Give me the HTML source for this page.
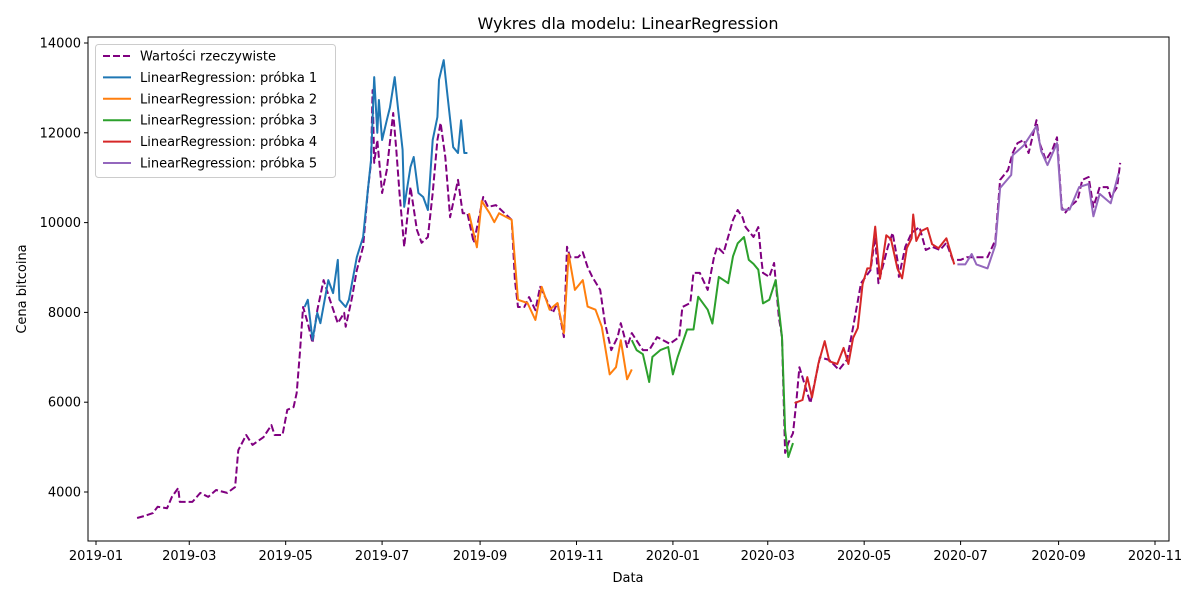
<!DOCTYPE html>
<html><head><meta charset="utf-8"><style>
body{margin:0;background:#fff;width:1200px;height:600px;overflow:hidden}
svg{font-family:"DejaVu Sans","Liberation Sans",sans-serif}
</style></head><body>
<svg id="chart" width="1200" height="600">
<rect width="1200" height="600" fill="#fff"/>
<text x="628" y="29" font-size="16" text-anchor="middle">Wykres dla modelu: LinearRegression</text>
<text x="628" y="582" font-size="13" text-anchor="middle">Data</text>
<text transform="translate(26,289) rotate(-90)" font-size="13" text-anchor="middle">Cena bitcoina</text>
<g id="ticks"></g>
<g id="series"></g>
<rect x="88" y="37" width="1081" height="504" fill="none" stroke="#000" stroke-width="1"/>
<g id="legend"></g>
</svg>
<script>
// day offsets from 2019-01-01
const actualDays=[26,31,36,39,45,48,52,53,61,66,71,76,83,88,90,95,99,106,111,113,118,121,125,127,129,131,134,137,140,144,148,153,157,158,162,165,169,172,174,175,176,178,181,184,188,190,192,195,199,203,206,210,213,216,218,221,224,229,232,235,239,245,248,253,263,265,267,271,274,278,281,285,289,292,296,298,300,305,308,311,314,319,322,326,330,332,336,339,346,350,355,363,369,371,376,378,382,387,391,393,397,403,406,409,411,416,419,421,422,426,429,432,434,436,438,441,443,445,452,458,464,470,475,479,484,490,493,495,501,504,507,508,512,516,521,525,529,534,538,542,547,551,555,559,564,569,572,577,580,583,587,590,595,597,601,605,608,611,613,616,621,624,628,631,635,640,642,646,648];
const actualVals=[3420,3470,3530,3670,3640,3890,4090,3780,3780,3980,3890,4045,3980,4110,4930,5270,5050,5220,5490,5270,5270,5830,5890,6210,7100,8120,7760,7320,8050,8720,8280,7760,7990,7680,8340,8940,9460,10730,11330,12950,11330,11840,10660,11170,12440,11620,10660,9460,10790,9840,9550,9680,10660,11840,12220,11460,10120,10950,10210,10210,9550,10570,10350,10390,10060,8720,8120,8120,8340,8050,8570,8280,7990,8210,7450,9460,9230,9230,9340,9010,8790,8500,7760,7160,7450,7760,7230,7540,7160,7160,7450,7300,7450,8120,8210,8880,8880,8500,9230,9460,9320,10060,10280,10120,9900,9680,9900,9170,8880,8790,9100,7900,7450,4870,5090,5310,5980,6780,5980,7000,6940,6720,6940,7670,8650,8940,9680,8650,9460,9770,9170,8790,9460,9770,9900,9390,9460,9390,9550,9170,9170,9230,9230,9230,9230,9610,10950,11170,11550,11770,11840,11550,12280,11770,11390,11620,11900,10350,10210,10350,10500,10950,11015,10350,10790,10790,10570,10790,11330];
const s1Days=[132,134,137,140,142,147,150,153,154,158,160,165,169,172,174,176,178,179,181,184,186,189,191,194,195,199,201,204,207,210,213,216,217,220,222,226,229,231,233,235];
const s1Vals=[8120,8280,7390,7990,7760,8720,8430,9170,8280,8120,8280,9230,9680,10730,11390,13240,12000,12730,11840,12280,12570,13240,12570,11620,10350,11240,11460,10660,10570,10280,11840,12350,13180,13620,12950,11680,11550,12280,11550,11550];
const s2Days=[236,241,244,249,252,255,263,267,273,278,282,287,292,296,299,303,308,311,316,320,325,329,332,336,339];
const s2Vals=[10210,9450,10480,10210,10010,10210,10060,8280,8210,7830,8570,8060,8210,7540,9300,8500,8720,8130,8060,7680,6620,6780,7380,6510,6730];
const s3Days=[339,342,346,350,352,357,362,365,368,374,378,381,387,390,394,400,403,406,410,413,416,419,422,426,430,434,436,438,441];
const s3Vals=[7380,7160,7070,6450,7010,7160,7230,6620,7010,7620,7620,8350,8060,7750,8790,8650,9250,9540,9680,9170,9080,8950,8200,8280,8720,7450,5380,4780,5090];
const s4Days=[442,447,450,453,457,461,464,469,473,476,479,482,485,488,490,493,496,500,503,507,510,513,516,517,519,522,526,529,533,538,543];
const s4Vals=[5980,6050,6560,6110,6850,7360,6910,6850,7210,6850,7430,7650,8630,8980,8980,9910,8750,9720,9630,8980,8760,9430,9650,10180,9590,9810,9880,9520,9430,9650,9070];
const s5Days=[545,550,554,557,564,569,572,579,580,587,595,598,602,608,611,616,622,628,631,635,642,647];
const s5Vals=[9070,9070,9300,9070,8980,9500,10770,11060,11500,11720,12150,11590,11280,11770,10290,10290,10790,10860,10140,10640,10430,11100];
const yTicks=[4000,6000,8000,10000,12000,14000];
const xTickLabels=["2019-01","2019-03","2019-05","2019-07","2019-09","2019-11","2020-01","2020-03","2020-05","2020-07","2020-09","2020-11"];
const xTickDays=[0,59,120,181,243,304,365,425,486,547,609,670];
const legendLabels=["Wartości rzeczywiste","LinearRegression: próbka 1","LinearRegression: próbka 2","LinearRegression: próbka 3","LinearRegression: próbka 4","LinearRegression: próbka 5"];

const NS="http://www.w3.org/2000/svg";
const xs=d=>96+d*1.5806;
const ys=v=>492-(v-4000)*0.0449;
function mk(tag,attrs,parent){const e=document.createElementNS(NS,tag);for(const k in attrs)e.setAttribute(k,attrs[k]);parent.appendChild(e);return e;}
const tg=document.getElementById('ticks');
yTicks.forEach(v=>{
  const y=ys(v);
  const l=mk('line',{x1:84,x2:88,y1:y,y2:y,stroke:'#000'},tg);
  
  
  const t=mk('text',{x:81,y:y+4.5,'font-size':13,'text-anchor':'end'},tg);
  t.textContent=v;
  
  
});
xTickDays.forEach((d,i)=>{
  const x=xs(d);
  const l=mk('line',{x1:x,x2:x,y1:541,y2:545,stroke:'#000'},tg);
  
  
  const t=mk('text',{x:x,y:560,'font-size':13,'text-anchor':'middle'},tg);
  t.textContent=xTickLabels[i];
  
  
});
const sg=document.getElementById('series');
function line(days,vals,color,dash,name){
  const pts=days.map((d,i)=>xs(d).toFixed(1)+','+ys(vals[i]).toFixed(1)).join(' ');
  const p=mk('polyline',{points:pts,fill:'none',stroke:color,'stroke-width':2,'stroke-linejoin':'round'},sg);
  if(dash)p.setAttribute('stroke-dasharray',dash);
  
  
}
line(actualDays,actualVals,'#800080','7,3','actual-values-line');
line(s1Days,s1Vals,'#1f77b4',null,'sample-1-line');
line(s2Days,s2Vals,'#ff7f0e',null,'sample-2-line');
line(s3Days,s3Vals,'#2ca02c',null,'sample-3-line');
line(s4Days,s4Vals,'#d62728',null,'sample-4-line');
line(s5Days,s5Vals,'#9467bd',null,'sample-5-line');
const lg=document.getElementById('legend');
const box=mk('rect',{x:95.5,y:44.5,width:240,height:133,rx:3,fill:'#fff','fill-opacity':0.8,stroke:'#ccc'},lg);


const cols=['#800080','#1f77b4','#ff7f0e','#2ca02c','#d62728','#9467bd'];
legendLabels.forEach((lab,i)=>{
  const y=56+i*21.4;
  const l=mk('line',{x1:103,x2:131,y1:y,y2:y,stroke:cols[i],'stroke-width':2},lg);
  if(i===0)l.setAttribute('stroke-dasharray','7,3');
  
  
  const t=mk('text',{x:140,y:y+4.5,'font-size':13},lg);
  t.textContent=lab;
  
  
});
</script>
</body></html>
